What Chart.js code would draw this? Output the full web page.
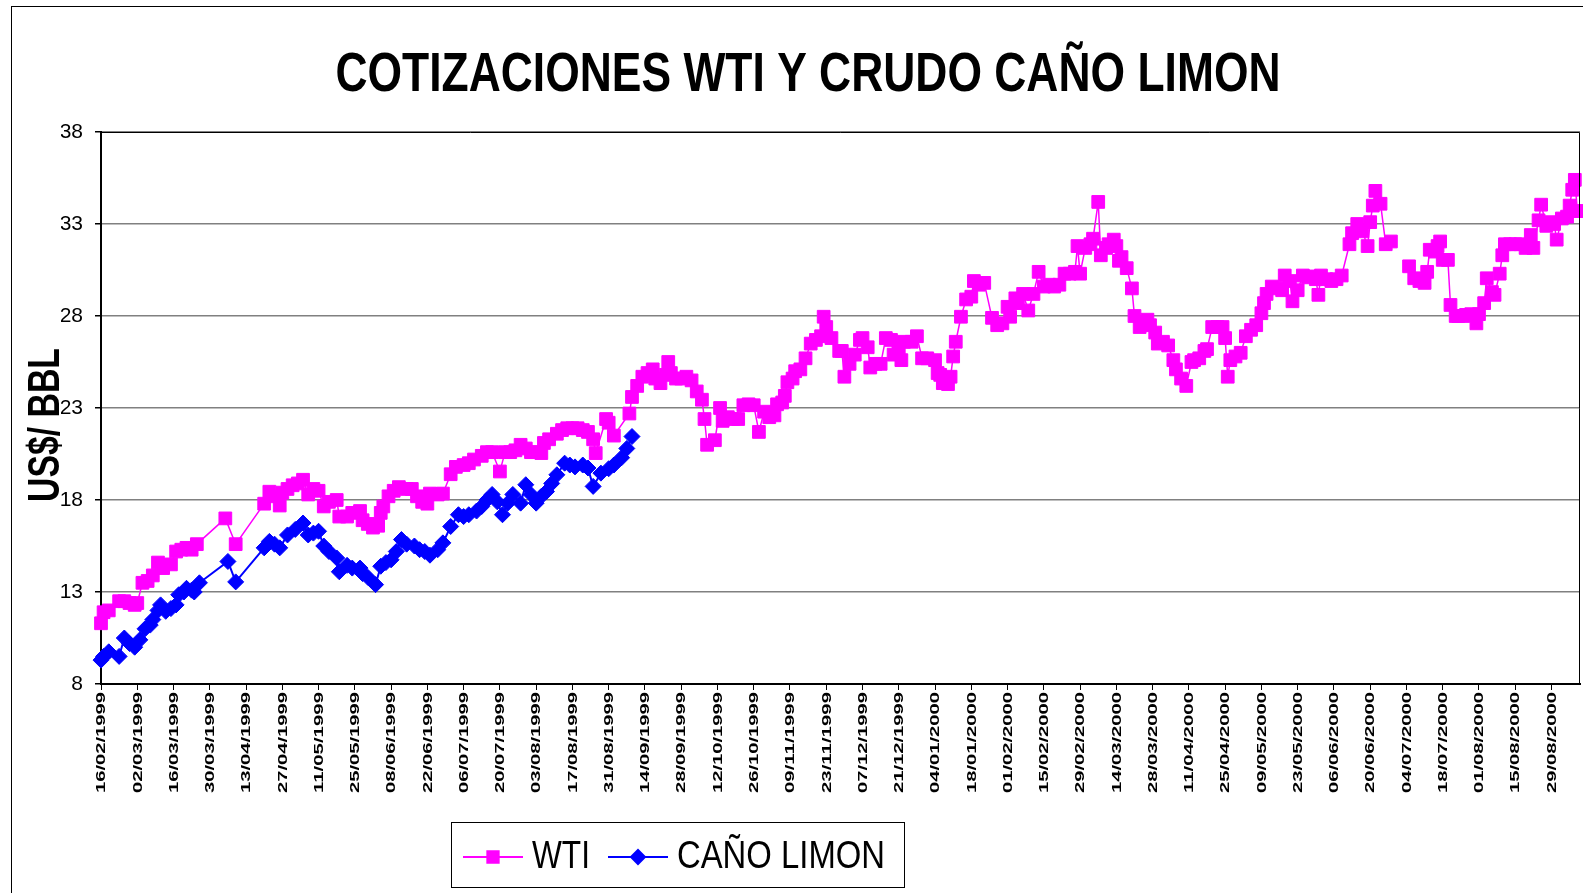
<!DOCTYPE html>
<html>
<head>
<meta charset="utf-8">
<title>Cotizaciones WTI y Caño Limón</title>
<script src="https://cdn.jsdelivr.net/npm/chart.js@4/dist/chart.umd.min.js"></script>
<style>
  html, body { margin: 0; padding: 0; background: #fff; }
  #wrap { width: 1583px; height: 893px; }
</style>
</head>
<body>
<div id="wrap"><canvas id="cotizaciones" width="1583" height="893"></canvas></div>
<script>
// fechas: dias contados desde el 16/02/1999
const startDate = Date.UTC(1999, 1, 16);
const lastDay = 571;

const xTickLabels = [
  '16/02/1999', '02/03/1999', '16/03/1999', '30/03/1999', '13/04/1999', '27/04/1999',
  '11/05/1999', '25/05/1999', '08/06/1999', '22/06/1999', '06/07/1999', '20/07/1999',
  '03/08/1999', '17/08/1999', '31/08/1999', '14/09/1999', '28/09/1999', '12/10/1999',
  '26/10/1999', '09/11/1999', '23/11/1999', '07/12/1999', '21/12/1999', '04/01/2000',
  '18/01/2000', '01/02/2000', '15/02/2000', '29/02/2000', '14/03/2000', '28/03/2000',
  '11/04/2000', '25/04/2000', '09/05/2000', '23/05/2000', '06/06/2000', '20/06/2000',
  '04/07/2000', '18/07/2000', '01/08/2000', '15/08/2000', '29/08/2000'
];
const yTicks = [8, 13, 18, 23, 28, 33, 38];

const wtiDays = [
  0, 1, 3, 7, 9, 11, 13, 14, 16, 18, 20, 22, 24, 27, 29, 31, 33, 35, 37, 48,
  52, 63, 65, 67, 69, 70, 72, 74, 76, 78, 80, 82, 84, 86, 88, 91, 92, 95, 97, 100,
  101, 103, 105, 107, 108, 109, 111, 113, 115, 118, 120, 122, 124, 126, 127, 130, 132, 135, 137, 140,
  142, 144, 147, 149, 151, 154, 156, 158, 160, 162, 164, 166, 168, 170, 171, 173, 176, 178, 180, 182,
  184, 186, 188, 190, 191, 195, 196, 198, 204, 205, 207, 209, 211, 213, 214, 216, 218, 219, 220, 222,
  224, 226, 228, 230, 232, 233, 234, 237, 239, 240, 242, 244, 246, 248, 250, 252, 254, 256, 258, 260,
  261, 263, 264, 265, 267, 268, 270, 272, 274, 276, 278, 279, 280, 282, 285, 286, 287, 289, 291, 293,
  294, 296, 297, 299, 301, 303, 305, 306, 308, 309, 310, 313, 315, 317, 319, 322, 323, 324, 325, 327,
  328, 329, 330, 332, 334, 336, 337, 339, 341, 344, 346, 348, 350, 351, 353, 354, 356, 358, 360, 362,
  364, 366, 368, 370, 372, 374, 376, 377, 378, 380, 382, 383, 385, 386, 388, 389, 391, 392, 393, 394,
  396, 398, 399, 401, 402, 404, 405, 407, 408, 410, 412, 414, 415, 417, 419, 421, 422, 424, 426, 427,
  429, 431, 433, 434, 435, 436, 438, 440, 442, 444, 446, 448, 449, 450, 452, 454, 456, 457, 459, 460,
  462, 464, 466, 467, 469, 470, 471, 473, 475, 477, 479, 482, 483, 485, 487, 489, 490, 491, 492, 494,
  496, 498, 500, 505, 507, 509, 511, 512, 513, 515, 516, 517, 518, 520, 521, 523, 524, 526, 527, 529,
  531, 532, 534, 535, 537, 538, 540, 541, 542, 544, 546, 548, 550, 552, 553, 555, 556, 558, 559, 561,
  562, 564, 566, 567, 568, 569, 570, 571
];
const wtiValues = [
  11.3, 11.9, 12.0, 12.5, 12.5, 12.4, 12.3, 12.4, 13.5, 13.6, 13.9, 14.6, 14.3, 14.5, 15.2, 15.3, 15.4, 15.3, 15.6, 17.0,
  15.6, 17.8, 18.45, 18.2, 17.7, 18.4, 18.6, 18.8, 18.9, 19.1, 18.3, 18.6, 18.5, 17.65, 17.9, 18.0, 17.1, 17.1, 17.3, 17.4,
  16.9, 16.7, 16.5, 16.6, 17.3, 17.65, 18.2, 18.5, 18.7, 18.6, 18.6, 18.2, 17.9, 17.8, 18.35, 18.3, 18.35, 19.4, 19.8, 19.9,
  20.0, 20.2, 20.4, 20.6, 20.6, 19.55, 20.6, 20.6, 20.7, 21.0, 20.8, 20.6, 20.6, 20.55, 21.1, 21.3, 21.6, 21.8, 21.9, 21.9,
  21.9, 21.8, 21.7, 21.3, 20.55, 22.4, 22.2, 21.5, 22.7, 23.6, 24.2, 24.7, 24.9, 25.1, 24.6, 24.35, 24.8, 25.5, 24.9, 24.6,
  24.6, 24.7, 24.5, 23.9, 23.45, 22.4, 21.0, 21.25, 23.0, 22.3, 22.5, 22.4, 22.4, 23.15, 23.2, 23.15, 21.7, 22.8, 22.5, 22.6,
  23.2, 23.3, 23.66, 24.4, 24.6, 25.0, 25.1, 25.7, 26.5, 26.7, 26.9, 27.96, 27.4, 26.8, 26.1, 26.1, 24.7, 25.4, 25.9, 26.7,
  26.8, 26.3, 25.2, 25.4, 25.4, 26.8, 26.7, 25.9, 26.2, 25.6, 26.6, 26.6, 26.9, 25.7, 25.7, 25.6, 24.9, 24.8, 24.35, 24.3,
  24.7, 25.8, 26.6, 27.96, 28.9, 29.05, 29.9, 29.7, 29.8, 27.9, 27.5, 27.6, 28.5, 27.96, 28.96, 28.7, 29.2, 28.3, 29.2, 30.4,
  29.6, 29.7, 29.6, 29.7, 30.3, 30.3, 30.4, 31.8, 30.3, 31.7, 31.9, 32.2, 34.2, 31.3, 31.7, 31.9, 32.15, 31.8, 31.0, 31.2,
  30.6, 29.5, 28.0, 27.4, 27.6, 27.8, 27.5, 27.1, 26.5, 26.6, 26.4, 25.6, 25.1, 24.6, 24.2, 25.5, 25.6, 25.7, 26.1, 26.2,
  27.4, 27.4, 27.4, 26.8, 24.7, 25.6, 25.8, 26.0, 26.9, 27.25, 27.5, 28.15, 28.7, 29.2, 29.6, 29.5, 29.4, 30.2, 29.9, 28.8,
  29.4, 30.2, 30.1, 30.15, 30.0, 29.15, 30.2, 30.0, 29.9, 30.0, 30.2, 31.9, 32.5, 33.0, 32.6, 31.8, 33.1, 34.0, 34.8, 34.1,
  31.9, 32.05, null, 30.7, 30.05, 29.9, 29.8, 30.4, 31.6, 31.5, 31.8, 32.05, 31.05, 31.05, 28.6, 28.0, 28.0, 28.0, 28.06, 28.1,
  27.6, 28.1, 28.7, 30.05, 29.3, 29.15, 30.3, 31.3, 31.9, 31.9, 31.9, 31.9, 31.7, 32.4, 31.7, 33.2, 34.05, 32.9, 33.1, 33.0,
  32.15, 33.3, 33.4, 34.0, 34.86, 35.4, 33.7, 33.7
];

const canoDays = [
  0, 1, 3, 7, 9, 11, 13, 15, 17, 19, 20, 22, 23, 25, 27, 29, 30, 32, 33, 35,
  36, 38, 49, 52, 63, 65, 67, 69, 72, 75, 78, 80, 82, 84, 86, 88, 91, 92, 95, 97,
  100, 101, 103, 106, 108, 110, 112, 114, 116, 118, 121, 123, 125, 127, 130, 132, 135, 138, 140, 142,
  145, 147, 149, 151, 153, 155, 157, 159, 162, 164, 166, 168, 170, 172, 174, 176, 179, 181, 183, 186,
  188, 190, 193, 196, 198, 201, 203, 205
];
const canoValues = [
  9.3, 9.5, 9.75, 9.5, 10.5, 10.2, 10.0, 10.4, 11.0, 11.2, 11.5, 12.0, 12.3, 11.95, 12.1, 12.3, 12.85, 13.0, 13.2, 13.1,
  13.0, 13.5, 14.66, 13.55, 15.4, 15.75, 15.6, 15.4, 16.1, 16.4, 16.75, 16.1, 16.2, 16.3, 15.5, 15.2, 14.85, 14.1, 14.45, 14.3,
  14.3, 14.0, 13.8, 13.4, 14.4, 14.6, 14.75, 15.2, 15.85, 15.6, 15.5, 15.3, 15.2, 15.0, 15.3, 15.67, 16.56, 17.2, 17.1, 17.2,
  17.4, 17.65, 18.0, 18.3, 17.9, 17.2, 17.83, 18.3, 17.83, 18.83, 18.3, 17.83, 18.2, 18.46, 18.9, 19.37, 20.0, 19.9, 19.8, 19.9,
  19.74, 18.74, 19.46, 19.7, 19.9, 20.3, 20.8, 21.45
];

const chartTitle = 'COTIZACIONES WTI Y CRUDO CAÑO LIMON';
const yTitle = 'US$/ BBL';
const wtiLabel = 'WTI';
const canoLabel = 'CAÑO LIMON';
const wtiColor = '#FF00FF';
const canoColor = '#0000FF';
const fontFamily = '"Liberation Sans", Arial, sans-serif';

function dayOf(label) {
  const p = label.split('/');
  return Math.round((Date.UTC(+p[2], +p[1] - 1, +p[0]) - startDate) / 86400000);
}
const xTickDays = xTickLabels.map(dayOf);

function toPoints(days, values) {
  return days.map((d, i) => ({ x: d, y: values[i] }));
}

// texto estirado como lo dibuja Excel: alto de mayusculas y largo fijos
function fitText(ctx, text, bold, x, y, width, capH, angle, align) {
  const size = capH / 0.716;
  ctx.save();
  ctx.font = (bold ? 'bold ' : '') + size + 'px ' + fontFamily;
  const w = ctx.measureText(text).width;
  ctx.translate(x, y);
  ctx.rotate(angle);
  ctx.scale(width / w, 1);
  ctx.textAlign = align;
  ctx.textBaseline = 'alphabetic';
  ctx.fillStyle = '#000';
  ctx.fillText(text, 0, 0);
  ctx.restore();
}

const excelDecor = {
  id: 'excelDecor',
  afterDraw(chart) {
    const ctx = chart.ctx;
    const area = chart.chartArea;
    const xs = chart.scales.x;
    ctx.save();

    // marco exterior del grafico
    ctx.strokeStyle = '#000';
    ctx.lineWidth = 1;
    ctx.strokeRect(11.5, 6.5, 2000, 2000);

    // borde superior y derecho del area de trazado
    ctx.beginPath();
    ctx.moveTo(area.left, area.top + 0.5);
    ctx.lineTo(area.right - 0.5, area.top + 0.5);
    ctx.lineTo(area.right - 0.5, area.bottom);
    ctx.stroke();

    fitText(ctx, chartTitle, true, 808, 91, 945, 40, 0, 'center');
    fitText(ctx, yTitle, true, 59, 425, 154, 32, -Math.PI / 2, 'center');

    // etiquetas de fechas, verticales
    const capX = 8.5;
    xTickDays.forEach((d, i) => {
      const px = xs.getPixelForValue(d);
      fitText(ctx, xTickLabels[i], true, px + capX / 2, area.bottom + 8, 101, capX, -Math.PI / 2, 'right');
    });

    // leyenda
    ctx.strokeStyle = '#000';
    ctx.lineWidth = 1;
    ctx.strokeRect(451.5, 822.5, 453, 65);
    const ly = 857;
    ctx.lineWidth = 2;
    ctx.strokeStyle = wtiColor;
    ctx.beginPath(); ctx.moveTo(463, ly); ctx.lineTo(523, ly); ctx.stroke();
    ctx.fillStyle = wtiColor;
    Chart.helpers.drawPoint(ctx, { pointStyle: 'rect', radius: 8, borderWidth: 1 }, 493, ly);
    ctx.fill();
    ctx.strokeStyle = canoColor;
    ctx.beginPath(); ctx.moveTo(608, ly); ctx.lineTo(668, ly); ctx.stroke();
    ctx.fillStyle = canoColor;
    Chart.helpers.drawPoint(ctx, { pointStyle: 'rectRot', radius: 7, borderWidth: 1 }, 638, ly);
    ctx.fill();
    fitText(ctx, wtiLabel, false, 532, 868, 58, 28, 0, 'left');
    fitText(ctx, canoLabel, false, 677, 868, 208, 28, 0, 'left');

    ctx.restore();
  }
};

Chart.defaults.font.family = fontFamily;
Chart.defaults.color = '#000';

new Chart(document.getElementById('cotizaciones'), {
  type: 'line',
  data: {
    datasets: [
      {
        label: wtiLabel,
        data: toPoints(wtiDays, wtiValues),
        borderColor: wtiColor,
        backgroundColor: wtiColor,
        borderWidth: 1.5,
        pointStyle: 'rect',
        pointRadius: 9,
        pointBorderWidth: 1,
        pointBackgroundColor: wtiColor,
        pointBorderColor: wtiColor,
        spanGaps: false,
        tension: 0,
        clip: 12,
        order: 2
      },
      {
        label: canoLabel,
        data: toPoints(canoDays, canoValues),
        borderColor: canoColor,
        backgroundColor: canoColor,
        borderWidth: 2,
        pointStyle: 'rectRot',
        pointRadius: 8,
        pointBorderWidth: 1,
        pointBackgroundColor: canoColor,
        pointBorderColor: canoColor,
        tension: 0,
        clip: 12,
        order: 1
      }
    ]
  },
  options: {
    responsive: false,
    animation: false,
    devicePixelRatio: 1,
    layout: { autoPadding: false, padding: { left: 61, top: 132, right: 3, bottom: 209 } },
    plugins: {
      legend: { display: false },
      title: { display: false },
      tooltip: { enabled: false }
    },
    scales: {
      x: {
        type: 'linear',
        min: 0,
        max: lastDay,
        afterBuildTicks: scale => { scale.ticks = xTickDays.map(v => ({ value: v })); },
        afterFit: scale => { scale.height = 0; },
        ticks: { display: false },
        grid: { drawOnChartArea: false, drawTicks: true, tickLength: 6, color: '#000', lineWidth: 1 },
        border: { color: '#000', width: 2 }
      },
      y: {
        min: 8,
        max: 38,
        afterBuildTicks: scale => { scale.ticks = yTicks.map(v => ({ value: v })); },
        afterFit: scale => { scale.width = 40; },
        ticks: { font: { size: 21 }, color: '#000', padding: 12 },
        grid: { color: '#808080', lineWidth: 1.5, tickLength: 6, tickColor: '#000' },
        border: { color: '#000', width: 2 }
      }
    }
  },
  plugins: [excelDecor]
});
</script>
</body>
</html>
